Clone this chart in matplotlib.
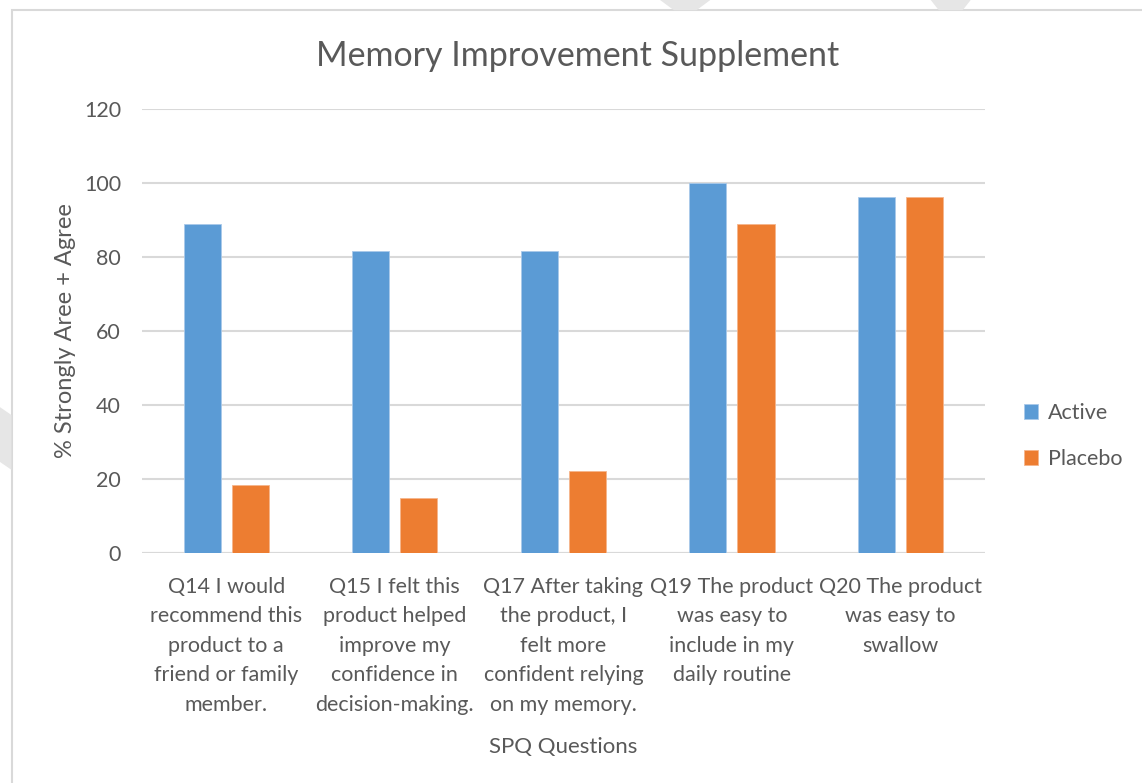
import numpy as np
import matplotlib.pyplot as plt
from matplotlib.patches import Rectangle, Polygon

questions = [
    "Q14 I would\nrecommend this\nproduct to a\nfriend or family\nmember.",
    "Q15 I felt this\nproduct helped\nimprove my\nconfidence in\ndecision-making.",
    "Q17 After taking\nthe product, I\nfelt more\nconfident relying\non my memory.",
    "Q19 The product\nwas easy to\ninclude in my\ndaily routine",
    "Q20 The product\nwas easy to\nswallow",
]
active = [88.9, 81.5, 81.5, 100.0, 96.3]
placebo = [18.5, 14.8, 22.2, 88.9, 96.3]

plt.rcParams['font.family'] = ['Lato', 'DejaVu Sans']
grau = '#595959'

fig = plt.figure(figsize=(11.42, 7.83), dpi=100)
ax = fig.add_axes([0.1243, 0.2937, 0.738, 0.5671])

x = np.arange(len(questions))
breite = 0.22
ax.bar(x - 0.143, active, breite, color='#5b9bd5', edgecolor='#a9c9ea', linewidth=0.6, label='Active', zorder=3)
ax.bar(x + 0.143, placebo, breite, color='#ed7d31', edgecolor='#f5b58c', linewidth=0.6, label='Placebo', zorder=3)

ax.set_xlim(-0.5, len(questions) - 0.5)
ax.set_ylim(0, 120)
ax.set_yticks(np.arange(0, 121, 20))
ax.yaxis.grid(True, color='#d9d9d9', linewidth=1.5, zorder=0)
for s in ax.spines.values():
    s.set_visible(False)
ax.axhline(0, color='#d9d9d9', linewidth=1.5, zorder=1)
ax.tick_params(axis='both', length=0, colors=grau)
ax.tick_params(axis='y', pad=15, labelsize=15.5)
ax.tick_params(axis='x', pad=17, labelsize=15.5)
ax.set_xticks(x)
ax.set_xticklabels(questions, linespacing=1.6)

ax.set_xlabel("SPQ Questions", color=grau, fontsize=16, labelpad=16)
ax.set_ylabel("% Strongly Aree + Agree", color=grau, fontsize=17, labelpad=6)
fig.text(0.506, 0.929, "Memory Improvement Supplement", ha='center', va='center',
         color=grau, fontsize=24.5)

leg = fig.legend(loc='center left', bbox_to_anchor=(0.88, 0.443), frameon=False,
                 fontsize=15.5, handlelength=0.65, handleheight=0.65, handletextpad=0.45,
                 labelspacing=1.2)
for t in leg.get_texts():
    t.set_color(grau)

# Rahmen und Wasserzeichen
fig.patches.append(Rectangle((0.0105, -0.01), 1.0, 0.997, transform=fig.transFigure,
                             fill=False, edgecolor='#d9d9d9', linewidth=1.5))
for pts in [[(0.578, 1.0), (0.622, 1.0), (0.61, 0.987), (0.59, 0.987)],
            [(0.815, 1.0), (0.85, 1.0), (0.843, 0.987), (0.822, 0.987)],
            [(0.0, 0.48), (0.01, 0.47), (0.01, 0.40), (0.0, 0.41)]]:
    fig.patches.append(Polygon(pts, closed=True, transform=fig.transFigure,
                               facecolor='#e6e6e6', edgecolor='none'))

plt.savefig('out.png', dpi=100)
